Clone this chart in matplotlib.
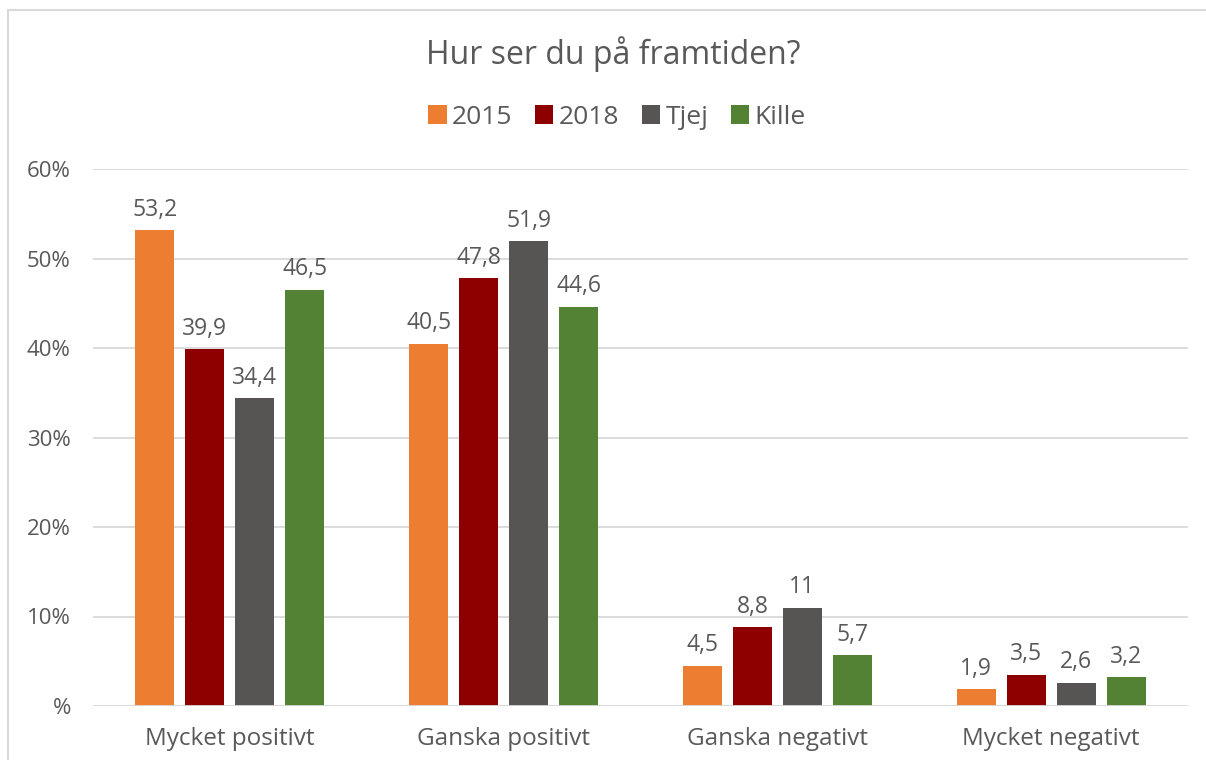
import matplotlib
matplotlib.use("Agg")
import matplotlib.pyplot as plt
from matplotlib.patches import Rectangle, Patch
import numpy as np

categories = ["Mycket positivt", "Ganska positivt", "Ganska negativt", "Mycket negativt"]
series_names = ["2015", "2018", "Tjej", "Kille"]
v2015 = [53.2, 40.5, 4.5, 1.9]
v2018 = [39.9, 47.8, 8.8, 3.5]
vtjej = [34.4, 51.9, 11, 2.6]
vkille = [46.5, 44.6, 5.7, 3.2]
label_2015 = ["53,2", "40,5", "4,5", "1,9"]
label_2018 = ["39,9", "47,8", "8,8", "3,5"]
label_tjej = ["34,4", "51,9", "11", "2,6"]
label_kille = ["46,5", "44,6", "5,7", "3,2"]
yticks = [0, 10, 20, 30, 40, 50, 60]
ytick_labels = ["%", "10%", "20%", "30%", "40%", "50%", "60%"]
title = "Hur ser du på framtiden?"

colors = ["#ED7D31", "#8E0000", "#565553", "#548235"]
text_color = "#595959"
plt.rcParams['font.family'] = ['Open Sans', 'DejaVu Sans']

fig = plt.figure(figsize=(12.06, 7.6), dpi=100)
ax = fig.add_axes([93/1206, 1 - 706/760, (1188-93)/1206, (706-169)/760])

series = [v2015, v2018, vtjej, vkille]
labels = [label_2015, label_2018, label_tjej, label_kille]
x = np.arange(len(categories))
width = 0.142
pitch = 0.1825
for i, (vals, lab, c, name) in enumerate(zip(series, labels, colors, series_names)):
    xs = x + (i - 1.5) * pitch
    ax.bar(xs, vals, width=width, color=c, zorder=3, label=name)
    for xx, v, l in zip(xs, vals, lab):
        ax.annotate(l, (xx, v), xytext=(0, 6), textcoords="offset points",
                    ha="center", va="bottom", fontsize=16.5, color=text_color)

ax.set_xlim(-0.5, 3.5)
ax.set_ylim(0, 60)
ax.set_yticks(yticks)
ax.set_yticklabels(ytick_labels, fontsize=16, color=text_color)
ax.set_xticks(x)
ax.set_xticklabels(categories, fontsize=17.5, color=text_color)
ax.tick_params(axis="x", length=0, pad=15)
ax.tick_params(axis="y", length=0, pad=16)
ax.grid(axis="y", color="#d9d9d9", linewidth=1.3, zorder=0)
for s in ax.spines.values():
    s.set_visible(False)
ax.axhline(0, color="#d9d9d9", linewidth=1.3, zorder=4)

fig.text(613/1206, 1 - 54/760, title, ha="center", va="center", fontsize=23, color=text_color)
handles = [Patch(facecolor=c, label=n) for c, n in zip(colors, series_names)]
fig.legend(handles=handles, loc="center", bbox_to_anchor=(617/1206, 1 - 117/760), ncol=4,
           frameon=False, fontsize=19, labelcolor=text_color, handlelength=0.7, handleheight=0.7,
           handletextpad=0.2, columnspacing=0.85)

fig.patches.append(Rectangle((8/1206, -0.1), 1.2, 1 - 10/760 + 0.1, transform=fig.transFigure,
                             fill=False, edgecolor="#d9d9d9", linewidth=1.5))

fig.savefig("out.png", dpi=100)
